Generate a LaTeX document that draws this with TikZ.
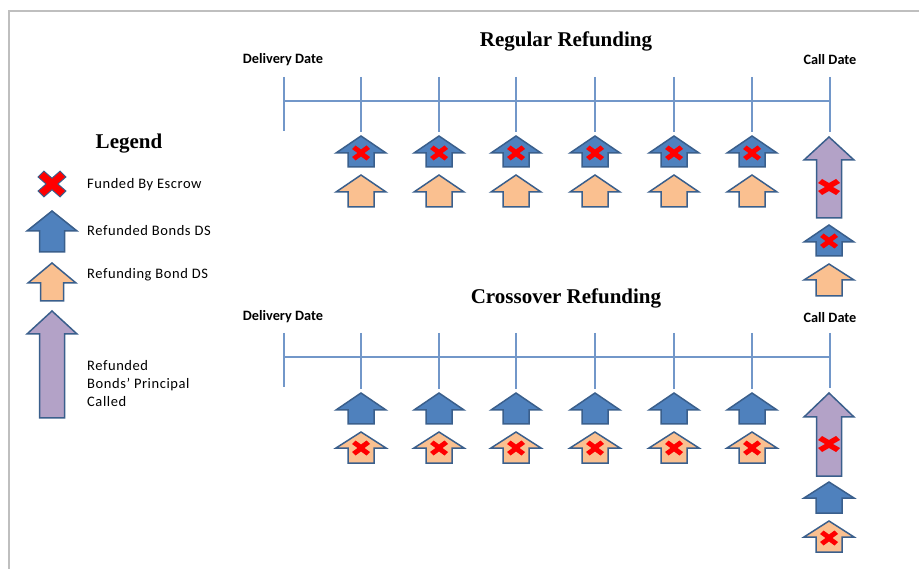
\documentclass[tikz,border=0pt]{standalone}
\usepackage{fontspec}
\setmainfont{Liberation Serif}
\newfontfamily\calibri{Carlito}

\definecolor{dsblue}{HTML}{4F81BD}
\definecolor{dsedge}{HTML}{3A5F8C}
\definecolor{dsorange}{HTML}{FAC090}
\definecolor{dspurple}{HTML}{B3A2C7}
\definecolor{escrowred}{HTML}{FF0000}
\definecolor{tline}{HTML}{7297C9}
\definecolor{framegray}{HTML}{BFBFBF}

\tikzset{
  bond/.style={draw=dsedge, line width=1.5pt, line join=miter},
  title/.style={font=\fontsize{21}{24}\selectfont\bfseries, inner sep=0pt},
  datelbl/.style={font=\calibri\fontsize{14.3}{16}\selectfont\bfseries, inner sep=0pt},
  legtext/.style={font=\calibri\addfontfeature{LetterSpace=4}\fontsize{14.5}{18}\selectfont, inner sep=0pt, anchor=west, align=left},
  timeline/.style={draw=tline, line width=1.1pt}
}

\begin{document}
\begin{tikzpicture}[x=1pt, y=-1pt]
        % up arrow: fill, x, tip, head base, bottom, half width, half shaft
        \def\bondup#1#2#3#4#5#6#7{%
          \draw[bond, fill=#1] (#2,#3) -- (#2+#6,#4) -- (#2+#7,#4) -- (#2+#7,#5)
            -- (#2-#7,#5) -- (#2-#7,#4) -- (#2-#6,#4) -- cycle;}
        % escrow cross: x, y, half width, half height, arm
        \def\escrow#1#2#3#4#5{%
          \fill[escrowred, shift={(#1,#2)}] (0,-#5) -- (#3-#5,-#4) -- (#3,-#4+#5) -- (#5,0)
            -- (#3,#4-#5) -- (#3-#5,#4) -- (0,#5) -- (-#3+#5,#4) -- (-#3,#4-#5)
            -- (-#5,0) -- (-#3,-#4+#5) -- (-#3+#5,-#4) -- cycle;}

        \useasboundingbox (0,0) rectangle (919,569);
        \draw[framegray, line width=2pt] (9,569) -- (9,11) -- (919,11);

        % legend
        \node[title] (legtitle) at (129,144) {Legend};
        \draw[dsedge, line width=2.2pt, line join=miter, shift={(52,184)}]
          (0,-5) -- (8,-12) -- (13,-7) -- (5,0) -- (13,7) -- (8,12) -- (0,5)
          -- (-8,12) -- (-13,7) -- (-5,0) -- (-13,-7) -- (-8,-12) -- cycle;
        \escrow{52}{184}{13}{12}{5}
        \bondup{dsblue}{52}{211}{231}{252}{25}{12.5}
        \bondup{dsorange}{52}{263}{283}{301}{24}{11.5}
        \bondup{dspurple}{52}{311}{334}{418}{25}{12.5}
        \node[legtext] (legescrow) at (87,185) {Funded By Escrow};
        \node[legtext] (legrefunded) at (87,231) {Refunded Bonds DS};
        \node[legtext] (legrefunding) at (87,275) {Refunding Bond DS};
        \node[legtext] (legcalled) at (87,384) {Refunded\\Bonds’ Principal\\Called};

        % regular refunding
        \node[title] (regtitle) at (566,41) {Regular Refunding};
        \node[datelbl] (regdel) at (283,60) {Delivery Date};
        \node[datelbl] (regcall) at (830,60) {Call Date};
        \draw[timeline] (284,101) -- (830,101);
        \draw[timeline] (284,77) -- (284,131);
        \draw[timeline] (361,77) -- (361,132);
        \draw[timeline] (439,77) -- (439,132);
        \draw[timeline] (516,77) -- (516,132);
        \draw[timeline] (595,77) -- (595,132);
        \draw[timeline] (674,77) -- (674,132);
        \draw[timeline] (752,77) -- (752,132);
        \draw[timeline] (830,77) -- (830,132);

        \bondup{dsblue}{361}{136}{153}{167}{25}{13}
        \bondup{dsblue}{439}{136}{153}{167}{25}{13}
        \bondup{dsblue}{516}{136}{153}{167}{25}{13}
        \bondup{dsblue}{595}{136}{153}{167}{25}{13}
        \bondup{dsblue}{674}{136}{153}{167}{25}{13}
        \bondup{dsblue}{752}{136}{153}{167}{25}{13}
        \escrow{361}{153}{9}{7.5}{3.5}
        \escrow{439}{153}{9}{7.5}{3.5}
        \escrow{516}{153}{9}{7.5}{3.5}
        \escrow{595}{153}{9}{7.5}{3.5}
        \escrow{674}{153}{9}{7.5}{3.5}
        \escrow{752}{153}{9}{7.5}{3.5}
        \bondup{dsorange}{361}{175}{192}{207}{25}{13}
        \bondup{dsorange}{439}{175}{192}{207}{25}{13}
        \bondup{dsorange}{516}{175}{192}{207}{25}{13}
        \bondup{dsorange}{595}{175}{192}{207}{25}{13}
        \bondup{dsorange}{674}{175}{192}{207}{25}{13}
        \bondup{dsorange}{752}{175}{192}{207}{25}{13}

        \bondup{dspurple}{829}{137}{160}{218}{25}{12.5}
        \escrow{829}{187}{11}{8}{4}
        \bondup{dsblue}{829}{225}{242}{256}{25}{13}
        \escrow{829}{241}{9}{7.5}{3.5}
        \bondup{dsorange}{829}{264}{280}{296}{25}{13}

        % crossover refunding
        \node[title] (xovtitle) at (566,298) {Crossover Refunding};
        \node[datelbl] (xovdel) at (283,317) {Delivery Date};
        \node[datelbl] (xovcall) at (830,318) {Call Date};
        \draw[timeline] (284,357) -- (830,357);
        \draw[timeline] (284,333) -- (284,387);
        \draw[timeline] (361,333) -- (361,389);
        \draw[timeline] (439,333) -- (439,389);
        \draw[timeline] (516,333) -- (516,389);
        \draw[timeline] (595,333) -- (595,389);
        \draw[timeline] (674,333) -- (674,389);
        \draw[timeline] (752,333) -- (752,389);
        \draw[timeline] (830,333) -- (830,388);

        \bondup{dsblue}{361}{393}{410}{424}{25}{13}
        \bondup{dsblue}{439}{393}{410}{424}{25}{13}
        \bondup{dsblue}{516}{393}{410}{424}{25}{13}
        \bondup{dsblue}{595}{393}{410}{424}{25}{13}
        \bondup{dsblue}{674}{393}{410}{424}{25}{13}
        \bondup{dsblue}{752}{393}{410}{424}{25}{13}
        \bondup{dsorange}{361}{432}{448}{463}{25}{13}
        \bondup{dsorange}{439}{432}{448}{463}{25}{13}
        \bondup{dsorange}{516}{432}{448}{463}{25}{13}
        \bondup{dsorange}{595}{432}{448}{463}{25}{13}
        \bondup{dsorange}{674}{432}{448}{463}{25}{13}
        \bondup{dsorange}{752}{432}{448}{463}{25}{13}
        \escrow{361}{448}{9}{7.5}{3.5}
        \escrow{439}{448}{9}{7.5}{3.5}
        \escrow{516}{448}{9}{7.5}{3.5}
        \escrow{595}{448}{9}{7.5}{3.5}
        \escrow{674}{448}{9}{7.5}{3.5}
        \escrow{752}{448}{9}{7.5}{3.5}

        \bondup{dspurple}{829}{393}{417}{476}{25}{12.5}
        \escrow{829}{444}{11}{8}{4}
        \bondup{dsblue}{829}{482}{498}{513}{25}{13}
        \bondup{dsorange}{829}{521}{537}{552}{25}{13}
        \escrow{829}{538}{9}{7.5}{3.5}
\end{tikzpicture}
\end{document}
